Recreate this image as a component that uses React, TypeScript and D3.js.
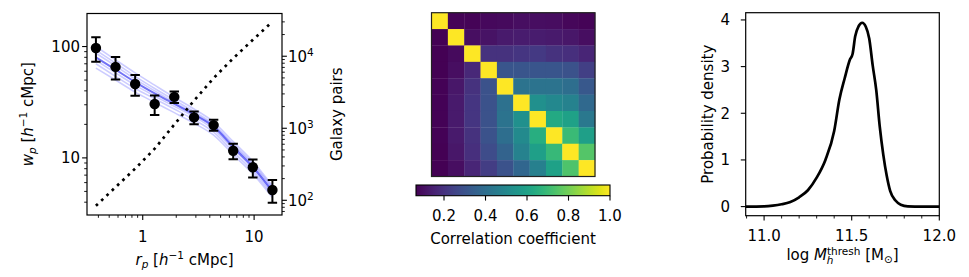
import React from 'react'
import * as d3 from 'd3'

const FONT = 'DejaVu Sans'
const FS = 15
const SUB = 10.5

// left panel: projected correlation function and pair counts
const rp = [0.38, 0.57, 0.855, 1.28, 1.92, 2.89, 4.33, 6.49, 9.74, 14.6]
const wp = [97, 65.6, 46.1, 30.5, 35.3, 23.1, 19.7, 11.6, 8.24, 5.15]
const wpHi = [121, 80.7, 55.6, 36.4, 39.5, 26.1, 22, 13.4, 9.66, 6.34]
const wpLo = [73, 50.5, 36.2, 24.3, 31.1, 20.1, 17.5, 9.7, 6.65, 3.96]
const pairs = [84, 152, 275, 520, 1125, 2420, 4970, 9350, 16900, 30200]
const modelBest = [80, 62, 48, 38, 30.5, 24.5, 19, 12.5, 8.3, 5.0]
const modelDraws = [
  [100, 76, 58, 45, 35, 27.5, 21, 14, 9.3, 5.6],
  [93, 71, 54, 42, 33, 26, 20, 13.3, 8.9, 5.4],
  [87, 67, 51, 40, 31.5, 25, 19.5, 12.9, 8.6, 5.2],
  [75, 58, 45, 36, 29, 23.5, 18, 12, 8.0, 4.8],
  [70, 54, 42, 34, 27.5, 22, 17, 11.3, 7.6, 4.6],
  [64, 50, 39, 31.5, 25.5, 20.5, 16, 10.7, 7.2, 4.4],
]

// middle panel: correlation matrix
const corr = [
  [1, 0.075, 0.075, 0.085, 0.09, 0.1, 0.1, 0.095, 0.08, 0.075],
  [0.065, 1, 0.1, 0.11, 0.13, 0.135, 0.135, 0.13, 0.12, 0.1],
  [0.065, 0.09, 1, 0.2, 0.2, 0.21, 0.22, 0.2, 0.19, 0.16],
  [0.065, 0.1, 0.17, 1, 0.31, 0.31, 0.31, 0.31, 0.3, 0.24],
  [0.07, 0.12, 0.2, 0.3, 1, 0.42, 0.42, 0.42, 0.4, 0.32],
  [0.07, 0.13, 0.21, 0.3, 0.41, 1, 0.53, 0.5, 0.48, 0.38],
  [0.07, 0.13, 0.21, 0.3, 0.42, 0.53, 1, 0.63, 0.6, 0.44],
  [0.07, 0.13, 0.2, 0.3, 0.4, 0.51, 0.65, 1, 0.7, 0.59],
  [0.065, 0.12, 0.19, 0.28, 0.36, 0.48, 0.59, 0.69, 1, 0.75],
  [0.065, 0.1, 0.16, 0.23, 0.3, 0.37, 0.47, 0.6, 0.74, 1],
]
const cbTicks = [0.2, 0.4, 0.6, 0.8, 1.0]

// right panel: posterior of threshold halo mass
const massX = [10.895, 11.0, 11.05, 11.1, 11.15, 11.2, 11.25, 11.3, 11.35, 11.4, 11.43, 11.46, 11.49, 11.505, 11.52, 11.54, 11.56, 11.58, 11.6, 11.62, 11.64, 11.66, 11.68, 11.7, 11.72, 11.75, 11.78, 11.82, 11.9, 12.0]
const density = [0, 0.005, 0.02, 0.05, 0.1, 0.2, 0.35, 0.62, 1.0, 1.62, 2.3, 2.75, 3.15, 3.27, 3.65, 3.87, 3.94, 3.86, 3.6, 3.02, 2.5, 1.72, 1.12, 0.66, 0.33, 0.13, 0.04, 0.005, 0, 0]
const massTicks = [11.0, 11.5, 12.0]
const densTicks = [0, 1, 2, 3, 4]

const txt = { fontFamily: FONT, fontSize: FS, fill: '#000' } as const

function minorLog(lo: number, hi: number) {
  const out: number[] = []
  for (let e = -2; e <= 6; e++) {
    for (let m = 2; m <= 9; m++) {
      const v = m * Math.pow(10, e)
      if (v >= lo && v <= hi) out.push(v)
    }
  }
  return out
}

function LeftPanel() {
  const L = 87, R = 282, T = 13.5, B = 215
  const x = d3.scaleLog().domain([0.316, 17.8]).range([L, R])
  const y = d3.scaleLog().domain([3.07, 198]).range([B, T])
  const y2 = d3.scaleLog().domain([62.5, 39200]).range([B, T])
  const line = (vals: number[]) =>
    d3.line<number>().x((_, i) => x(rp[i])).y((v) => y(v)).curve(d3.curveMonotoneX)(vals) || ''
  const pairLine = d3.line<number>().x((_, i) => x(rp[i])).y((v) => y2(v))(pairs) || ''

  return (
    <g>
      <defs>
        <clipPath id="leftclip">
          <rect x={L} y={T} width={R - L} height={B - T} />
        </clipPath>
      </defs>
      <g clipPath="url(#leftclip)">
        {modelDraws.map((m, i) => (
          <path key={i} d={line(m)} fill="none" stroke="#0000ff" strokeOpacity={0.2} strokeWidth={1.6} />
        ))}
        <path d={line(modelBest)} fill="none" stroke="#0000ee" strokeOpacity={0.55} strokeWidth={2} />
        {rp.map((r, i) => (
          <g key={i} stroke="#000" strokeWidth={2}>
            <line x1={x(r)} x2={x(r)} y1={y(wpLo[i])} y2={y(wpHi[i])} />
            <line x1={x(r) - 4.7} x2={x(r) + 4.7} y1={y(wpLo[i])} y2={y(wpLo[i])} />
            <line x1={x(r) - 4.7} x2={x(r) + 4.7} y1={y(wpHi[i])} y2={y(wpHi[i])} />
            <circle cx={x(r)} cy={y(wp[i])} r={5.2} fill="#000" stroke="none" />
          </g>
        ))}
        <path d={pairLine} fill="none" stroke="#000" strokeWidth={2.7} strokeDasharray="2.7 4.6" />
      </g>
      <rect x={L} y={T} width={R - L} height={B - T} fill="none" stroke="#000" strokeWidth={1.2} />

      {/* bottom axis */}
      {[1, 10].map((t) => (
        <g key={t}>
          <line x1={x(t)} x2={x(t)} y1={B} y2={B + 4.9} stroke="#000" strokeWidth={1.1} />
          <text x={x(t)} y={242} textAnchor="middle" {...txt}>{t}</text>
        </g>
      ))}
      {minorLog(0.316, 17.8).map((t) => (
        <line key={t} x1={x(t)} x2={x(t)} y1={B} y2={B + 2.8} stroke="#000" strokeWidth={0.9} />
      ))}

      {/* left axis */}
      {[10, 100].map((t) => (
        <g key={t}>
          <line x1={L} x2={L - 4.9} y1={y(t)} y2={y(t)} stroke="#000" strokeWidth={1.1} />
          <text x={80} y={y(t) + 5.4} textAnchor="end" {...txt}>{t}</text>
        </g>
      ))}
      {minorLog(3.07, 198).map((t) => (
        <line key={t} x1={L} x2={L - 2.8} y1={y(t)} y2={y(t)} stroke="#000" strokeWidth={0.9} />
      ))}

      {/* right axis: galaxy pairs */}
      {[2, 3, 4].map((e) => (
        <g key={e}>
          <line x1={R} x2={R + 4.9} y1={y2(Math.pow(10, e))} y2={y2(Math.pow(10, e))} stroke="#000" strokeWidth={1.1} />
          <text x={288} y={y2(Math.pow(10, e)) + 5.4} {...txt}>
            10<tspan fontSize={SUB} dy={-6}>{e}</tspan>
          </text>
        </g>
      ))}
      {minorLog(62.5, 39200).map((t) => (
        <line key={t} x1={R} x2={R + 2.8} y1={y2(t)} y2={y2(t)} stroke="#000" strokeWidth={0.9} />
      ))}

      <text x={(L + R) / 2} y={265} textAnchor="middle" {...txt}>
        <tspan fontStyle="italic">r</tspan>
        <tspan fontStyle="italic" fontSize={SUB} dy={3}>p</tspan>
        <tspan dy={-3}> [</tspan>
        <tspan fontStyle="italic">h</tspan>
        <tspan fontSize={SUB} dy={-6}>−1</tspan>
        <tspan dy={6}> cMpc]</tspan>
      </text>
      <text transform={`translate(33, ${(T + B) / 2}) rotate(-90)`} textAnchor="middle" {...txt}>
        <tspan fontStyle="italic">w</tspan>
        <tspan fontStyle="italic" fontSize={SUB} dy={3}>p</tspan>
        <tspan dy={-3}> [</tspan>
        <tspan fontStyle="italic">h</tspan>
        <tspan fontSize={SUB} dy={-6}>−1</tspan>
        <tspan dy={6}> cMpc]</tspan>
      </text>
      <text transform={`translate(342, ${(T + B) / 2}) rotate(-90)`} textAnchor="middle" {...txt}>
        Galaxy pairs
      </text>
    </g>
  )
}

function MiddlePanel() {
  const L = 431.5, R = 595, T = 12.7, B = 176.5
  const n = corr.length
  const idx = d3.range(n)
  const xb = d3.scaleBand<number>().domain(idx).range([L, R])
  const yb = d3.scaleBand<number>().domain(idx).range([T, B])
  const color = d3.scaleSequential(d3.interpolateViridis).domain([0.065, 1.0])

  const cbL = 416, cbR = 610, cbT = 185, cbB = 195.7
  const cx = d3.scaleLinear().domain([0.065, 1.0]).range([cbL, cbR])
  const stops = d3.range(0, 1.0001, 0.05)

  return (
    <g>
      {corr.map((row, i) =>
        row.map((v, j) => (
          <rect key={`${i}-${j}`} x={xb(j)} y={yb(i)} width={xb.bandwidth() + 0.3} height={yb.bandwidth() + 0.3} fill={color(v)} />
        ))
      )}
      <rect x={L} y={T} width={R - L} height={B - T} fill="none" stroke="#222" strokeWidth={1.2} />

      <defs>
        <linearGradient id="viridisbar" x1="0" x2="1" y1="0" y2="0">
          {stops.map((s) => (
            <stop key={s} offset={s} stopColor={d3.interpolateViridis(s)} />
          ))}
        </linearGradient>
      </defs>
      <rect x={cbL} y={cbT} width={cbR - cbL} height={cbB - cbT} fill="url(#viridisbar)" stroke="#000" strokeWidth={1.1} />
      {cbTicks.map((t) => (
        <g key={t}>
          <line x1={cx(t)} x2={cx(t)} y1={cbB} y2={cbB + 4.9} stroke="#000" strokeWidth={1.1} />
          <text x={cx(t)} y={220.7} textAnchor="middle" {...txt}>{t.toFixed(1)}</text>
        </g>
      ))}
      <text x={(cbL + cbR) / 2} y={244} textAnchor="middle" {...txt}>Correlation coefficient</text>
    </g>
  )
}

function RightPanel() {
  const L = 745.7, R = 939.3, T = 12.7, B = 215.7
  const x = d3.scaleLinear().domain([10.895, 12.0]).range([L, R])
  const y = d3.scaleLinear().domain([-0.195, 4.155]).range([B, T])
  const path = d3.line<number>().x((_, i) => x(massX[i])).y((v) => y(v)).curve(d3.curveMonotoneX)(density) || ''
  const minor = d3.range(10.9, 12.001, 0.1).filter((t) => massTicks.every((m) => Math.abs(m - t) > 1e-6))

  return (
    <g>
      <path d={path} fill="none" stroke="#000" strokeWidth={2.7} strokeLinejoin="round" />
      <rect x={L} y={T} width={R - L} height={B - T} fill="none" stroke="#000" strokeWidth={1.2} />
      {massTicks.map((t) => (
        <g key={t}>
          <line x1={x(t)} x2={x(t)} y1={B} y2={B + 4.9} stroke="#000" strokeWidth={1.1} />
          <text x={x(t)} y={241.2} textAnchor="middle" {...txt}>{t.toFixed(1)}</text>
        </g>
      ))}
      {minor.map((t) => (
        <line key={t} x1={x(t)} x2={x(t)} y1={B} y2={B + 2.8} stroke="#000" strokeWidth={0.9} />
      ))}
      {densTicks.map((t) => (
        <g key={t}>
          <line x1={L} x2={L - 4.9} y1={y(t)} y2={y(t)} stroke="#000" strokeWidth={1.1} />
          <text x={730} y={y(t) + 5.4} textAnchor="end" {...txt}>{t}</text>
        </g>
      ))}
      <text transform={`translate(713, ${(T + B) / 2}) rotate(-90)`} textAnchor="middle" {...txt}>
        Probability density
      </text>
      <text x={(L + R) / 2} y={260} textAnchor="middle" {...txt}>
        log <tspan fontStyle="italic">M</tspan>
        <tspan fontSize={SUB} dy={-5}>thresh</tspan>
        <tspan fontSize={SUB} fontStyle="italic" dx={-33.7} dy={9}>h</tspan>
        <tspan dx={27} dy={-4}> [M</tspan>
        <tspan fontSize={SUB} dy={3}>⊙</tspan>
        <tspan dy={-3}>]</tspan>
      </text>
    </g>
  )
}

export default function App() {
  return (
    <svg width={969} height={277} style={{ display: 'block', position: 'absolute', left: 0, top: 0, background: '#fff' }}>
      <rect width={969} height={277} fill="#fff" />
      <LeftPanel />
      <MiddlePanel />
      <RightPanel />
    </svg>
  )
}
